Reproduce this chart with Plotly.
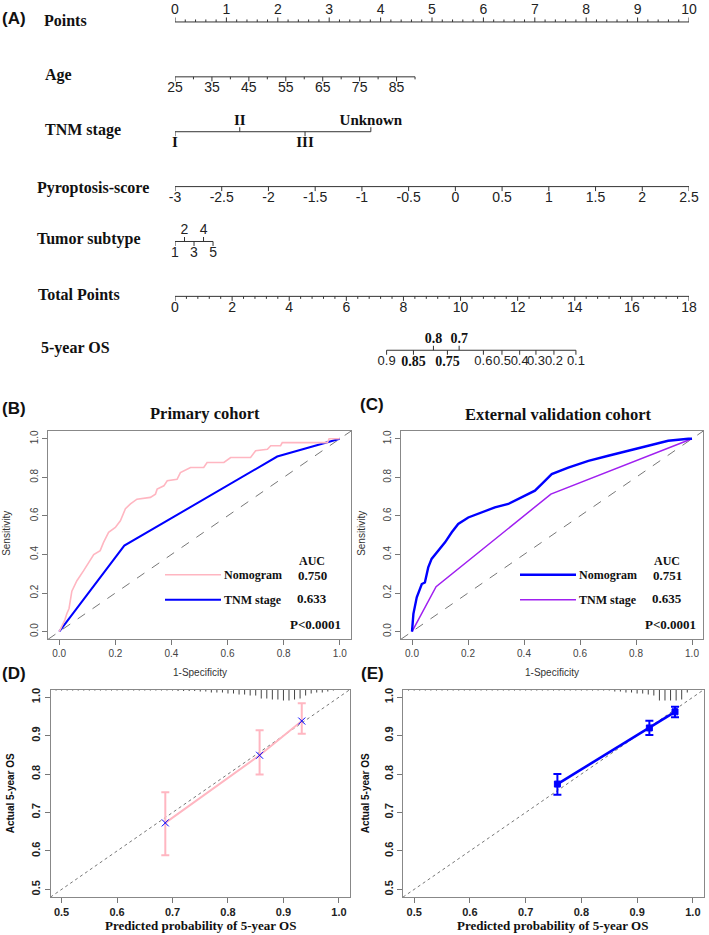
import plotly.graph_objects as go

W, H = 709, 935

# ================= DATA =================
# Panel A - nomogram
points_ticks = [0, 1, 2, 3, 4, 5, 6, 7, 8, 9, 10]
age_ticks = [25, 35, 45, 55, 65, 75, 85]
age_limits = [25, 90]
age_points_limits = [0.0, 4.67]
tnm_labels = ["I", "II", "III", "Unknown"]
tnm_points = [0.0, 1.26, 2.53, 3.81]
pyro_ticks = [-3, -2.5, -2, -1.5, -1, -0.5, 0, 0.5, 1, 1.5, 2, 2.5]
pyro_limits = [-3, 2.5]
pyro_points_limits = [0.0, 10.0]
subtype_labels = ["1", "2", "3", "4", "5"]
subtype_points = [0.0, 0.185, 0.37, 0.555, 0.74]
total_ticks = [0, 2, 4, 6, 8, 10, 12, 14, 16, 18]
total_points_max = 18
os_labels = ["0.9", "0.85", "0.8", "0.75", "0.7", "0.6", "0.5", "0.4", "0.3", "0.2", "0.1"]
os_total_points = [7.41, 8.35, 9.05, 9.54, 9.95, 10.80, 11.45, 12.07, 12.64, 13.27, 14.04]

# Panel B - primary cohort ROC
b_nomo_fpr = [0, 0.01, 0.02, 0.027, 0.035, 0.045, 0.063, 0.087, 0.105, 0.123, 0.146, 0.158,
              0.176, 0.2, 0.218, 0.236, 0.254, 0.277, 0.325, 0.343, 0.349, 0.373, 0.385,
              0.42, 0.432, 0.468, 0.515, 0.527, 0.587, 0.611, 0.682, 0.70, 0.742, 0.754,
              0.789, 0.795, 0.956, 0.962, 1.0]
b_nomo_tpr = [0, 0.03, 0.06, 0.093, 0.12, 0.21, 0.264, 0.316, 0.359, 0.40, 0.42, 0.463,
              0.515, 0.54, 0.575, 0.637, 0.662, 0.687, 0.696, 0.713, 0.739, 0.756, 0.782,
              0.79, 0.825, 0.851, 0.851, 0.877, 0.877, 0.903, 0.903, 0.938, 0.946, 0.964,
              0.964, 0.98, 0.98, 1.0, 1.0]
b_tnm_fpr = [0, 0.232, 0.777, 1.0]
b_tnm_tpr = [0, 0.446, 0.908, 1.0]

# Panel C - external validation ROC
c_nomo_fpr = [0, 0.003, 0.005, 0.017, 0.035, 0.046, 0.058, 0.07, 0.094, 0.118, 0.142, 0.165,
              0.201, 0.249, 0.296, 0.344, 0.392, 0.439, 0.463, 0.499, 0.558, 0.63, 0.701,
              0.773, 0.844, 0.915, 0.987, 1.0]
c_nomo_tpr = [0, 0.04, 0.092, 0.178, 0.247, 0.255, 0.333, 0.377, 0.42, 0.463, 0.515, 0.558,
              0.592, 0.618, 0.644, 0.662, 0.696, 0.731, 0.765, 0.817, 0.851, 0.886, 0.912,
              0.938, 0.964, 0.99, 1.0, 1.0]
c_tnm_fpr = [0, 0.086, 0.496, 1.0]
c_tnm_tpr = [0, 0.233, 0.713, 1.0]

auc_b = ["0.750", "0.633"]
auc_c = ["0.751", "0.635"]

# Panel D - calibration primary
d_pred = [0.687, 0.857, 0.933]
d_obs = [0.673, 0.849, 0.938]
d_upper = [0.753, 0.914, 0.984]
d_lower = [0.589, 0.799, 0.905]
# Panel E - calibration external
e_pred = [0.757, 0.922, 0.968]
e_obs = [0.774, 0.920, 0.962]
e_upper = [0.800, 0.939, 0.975]
e_lower = [0.746, 0.902, 0.948]

rug_x = [0.49, 0.50, 0.51, 0.52, 0.53, 0.54, 0.55, 0.56, 0.57, 0.58, 0.59, 0.60,
         0.61, 0.62, 0.63, 0.64, 0.65, 0.66, 0.67, 0.68, 0.69, 0.70, 0.71, 0.72,
         0.73, 0.74, 0.75, 0.76, 0.77, 0.78, 0.79, 0.80, 0.81, 0.82, 0.83, 0.84,
         0.85, 0.86, 0.87, 0.88, 0.89, 0.90, 0.91, 0.92, 0.93, 0.94, 0.95, 0.96,
         0.97, 0.98, 0.99]
rug_d = [1, 1, 1, 1, 1, 1, 1, 1, 1, 1, 1, 1,
         1, 1, 1, 1, 1, 1, 1, 1, 1, 1, 1.5, 1.5,
         1.5, 1.5, 2, 2, 3, 3, 3, 4, 4, 5, 5, 6,
         6, 9, 9, 10, 10, 11, 11, 10, 9, 6, 4, 3,
         3, 2, 1]
rug_e = [1, 1, 1, 1, 1, 1, 1, 1, 1, 1, 1, 1,
         1, 1, 1, 1, 1, 1, 1, 1, 1, 1, 1, 1,
         1, 1, 1, 1, 1, 1, 1, 1, 1, 1, 1, 1,
         1, 2, 2, 3, 3, 4, 4, 5, 6, 11, 11, 11,
         11, 10, 3]

# ================= HELPERS =================
SERIF = "Liberation Serif, Times New Roman, serif"
SANS = "Liberation Sans, Arial, sans-serif"


def px(x):
    return x / W


def py(y):
    return 1 - y / H


fig = go.Figure()
annotations = []
shapes = []


def ann(x, y, text, size=12, family=SERIF, weight="bold", color="#111",
        xanchor="center", angle=0):
    annotations.append(dict(x=px(x), y=py(y), xref="paper", yref="paper", text=text,
                            showarrow=False, xanchor=xanchor, yanchor="middle",
                            textangle=angle,
                            font=dict(family=family, size=size, color=color, weight=weight)))


def lin(v, lim, plim):
    return plim[0] + (v - lim[0]) / (lim[1] - lim[0]) * (plim[1] - plim[0])


TICK_FONT = dict(family=SANS, size=14, color="#222")


def nomo_row(ypix, pts, texts, sides, minor=(), fonts=None, span=None):
    lo, hi = (min(pts), max(pts)) if span is None else span
    fig.add_trace(go.Scatter(x=[lo, hi], y=[ypix, ypix], mode="lines",
                             line=dict(color="#333", width=1), hoverinfo="skip",
                             xaxis="x", yaxis="y", showlegend=False))
    tx, ty = [], []
    for p, s in zip(pts, sides):
        d = -4.5 if s == "above" else 4.5
        tx += [p, p, None]
        ty += [ypix, ypix + d, None]
    for p in minor:
        d = -2.5 if sides[0] == "above" else 2.5
        tx += [p, p, None]
        ty += [ypix, ypix + d, None]
    fig.add_trace(go.Scatter(x=tx, y=ty, mode="lines", line=dict(color="#333", width=1),
                             hoverinfo="skip", xaxis="x", yaxis="y", showlegend=False))
    if fonts is None:
        fonts = [TICK_FONT] * len(pts)
    for p, t, s, f in zip(pts, texts, sides, fonts):
        yy = ypix - 11 if s == "above" else ypix + 12
        fig.add_trace(go.Scatter(x=[p], y=[yy], mode="text", text=[t],
                                 textposition="middle center", textfont=f,
                                 hoverinfo="skip", xaxis="x", yaxis="y",
                                 showlegend=False, cliponaxis=False))


# ================= PANEL A =================
ann(14, 17, "(A)", size=17, family=SANS)
row_names = [("Points", 19), ("Age", 73), ("TNM stage", 128), ("Pyroptosis-score", 186),
             ("Tumor subtype", 238), ("Total Points", 293), ("5-year OS", 347)]
row_x = [42, 43, 43, 35, 35, 36, 39]
for (name, yy), xx in zip(row_names, row_x):
    ann(xx, yy, name, size=16, family=SERIF, xanchor="left")

# Points
nomo_row(20, points_ticks, [str(v) for v in points_ticks], ["above"] * len(points_ticks),
         minor=[i / 5 for i in range(51) if i % 5])
# Age
age_pts = [lin(v, age_limits, age_points_limits) for v in age_ticks]
age_minor = [lin(v, age_limits, age_points_limits) for v in range(30, 91, 10)]
nomo_row(75, age_pts, [str(v) for v in age_ticks], ["below"] * len(age_ticks),
         minor=age_minor, span=age_points_limits)
# TNM
tnm_font = dict(family=SERIF, size=15, color="#111", weight="bold")
nomo_row(130, tnm_points, tnm_labels, ["below", "above", "below", "above"],
         fonts=[tnm_font] * 4)
# Pyroptosis
pyro_pts = [lin(v, pyro_limits, pyro_points_limits) for v in pyro_ticks]
nomo_row(185, pyro_pts, [("%g" % v) for v in pyro_ticks], ["below"] * len(pyro_ticks))
# Tumor subtype
nomo_row(240, subtype_points, subtype_labels, ["below", "above", "below", "above", "below"])
# Total points
scale = 10 / total_points_max
tot_pts = [v * scale for v in total_ticks]
nomo_row(295, tot_pts, [str(v) for v in total_ticks], ["below"] * len(total_ticks),
         minor=[i * 0.4 * scale for i in range(46) if i % 5])
# 5-year OS
os_pts = [v * scale for v in os_total_points]
os_sides = ["above" if l in ("0.8", "0.7") else "below" for l in os_labels]
os_fonts = [dict(family=SERIF, size=14, color="#111", weight="bold")
            if l in ("0.85", "0.8", "0.75", "0.7") else dict(family=SANS, size=13, color="#222")
            for l in os_labels]
nomo_row(349, os_pts, os_labels, os_sides, fonts=os_fonts)

# ================= ROC PANELS =================
roc_ticks = [0, 0.2, 0.4, 0.6, 0.8, 1.0]
roc_text = ["0.0", "0.2", "0.4", "0.6", "0.8", "1.0"]


def roc_axis(domain, anchor, rng):
    return dict(domain=domain, anchor=anchor, range=rng, tickvals=roc_ticks, ticktext=roc_text,
                ticks="outside", ticklen=5, tickcolor="#777", showline=True, mirror=True,
                linecolor="#888", linewidth=1, showgrid=False, zeroline=False,
                tickfont=dict(family=SANS, size=10, color="#444"))


for (xa, ya, nomo_f, nomo_t, tnm_f, tnm_t, cn, ct, wn, wt) in [
        ("x2", "y2", b_nomo_fpr, b_nomo_tpr, b_tnm_fpr, b_tnm_tpr, "#FFB6C1", "#0000FF", 1.6, 2.0),
        ("x3", "y3", c_nomo_fpr, c_nomo_tpr, c_tnm_fpr, c_tnm_tpr, "#0000FF", "#A020F0", 2.4, 1.5)]:
    fig.add_trace(go.Scatter(x=[-0.04, 1.04], y=[-0.04, 1.04], mode="lines",
                             line=dict(color="#777", width=1, dash="dash"), xaxis=xa, yaxis=ya,
                             showlegend=False, hoverinfo="skip"))
    fig.add_trace(go.Scatter(x=tnm_f, y=tnm_t, mode="lines", line=dict(color=ct, width=wt),
                             xaxis=xa, yaxis=ya, showlegend=False))
    fig.add_trace(go.Scatter(x=nomo_f, y=nomo_t, mode="lines", line=dict(color=cn, width=wn),
                             xaxis=xa, yaxis=ya, showlegend=False))

ann(14, 407, "(B)", size=17, family=SANS)
ann(372, 403, "(C)", size=17, family=SANS)
ann(205, 412, "Primary cohort", size=16.5)
ann(558, 413, "External validation cohort", size=16.5)
for xo in (0, 355):
    ann(7 + xo, 533, "Sensitivity", size=10, family=SANS, weight="normal", color="#333", angle=-90)
for xc in (200, 552):
    ann(xc, 672, "1-Specificity", size=10, family=SANS, weight="normal", color="#333")

# ROC legends
for x0, cols, widths, aucs in [(165, ("#FFB6C1", "#0000FF"), (1.6, 2.0), auc_b),
                                (520, ("#0000FF", "#A020F0"), (2.4, 1.5), auc_c)]:
    vx = x0 + 147
    ann(vx, 560, "AUC", size=12)
    for (yy, lab, col, w, a) in [(574, "Nomogram", cols[0], widths[0], aucs[0]),
                                 (599, "TNM stage", cols[1], widths[1], aucs[1])]:
        shapes.append(dict(type="line", xref="paper", yref="paper", x0=px(x0), x1=px(x0 + 56),
                           y0=py(yy), y1=py(yy), line=dict(color=col, width=w)))
        ann(x0 + 57, yy, lab, size=12, xanchor="left")
        ann(vx, yy + (1 if lab == "Nomogram" else -1), a, size=13)
    ann(vx + 3, 624, "P<0.0001", size=13)

# ================= CALIBRATION PANELS =================
cal_ticks = [0.5, 0.6, 0.7, 0.8, 0.9, 1.0]
cal_text = ["0.5", "0.6", "0.7", "0.8", "0.9", "1.0"]


def cal_axis(domain, anchor, angle=0):
    return dict(domain=domain, anchor=anchor, range=[0.48, 1.02], tickvals=cal_ticks,
                ticktext=cal_text, ticks="outside", ticklen=5, tickcolor="#777", showline=True,
                mirror=True, linecolor="#888", linewidth=1, showgrid=False, zeroline=False,
                tickangle=angle,
                tickfont=dict(family=SANS, size=11, color="#222", weight="bold"))


rug_unit = 1 / 385.0
for (xa, ya, pr, ob, up, lo, col, lw, sym, rug) in [
        ("x4", "y4", d_pred, d_obs, d_upper, d_lower, "#FFB6C1", 2.0, "x-thin-open", rug_d),
        ("x5", "y5", e_pred, e_obs, e_upper, e_lower, "#0000FF", 2.6, "square", rug_e)]:
    fig.add_trace(go.Scatter(x=[0.48, 1.02], y=[0.48, 1.02], mode="lines",
                             line=dict(color="#777", width=1, dash="dot"), xaxis=xa, yaxis=ya,
                             showlegend=False, hoverinfo="skip"))
    rx, ry = [], []
    for xv, hv in zip(rug_x, rug):
        rx += [xv, xv, None]
        ry += [1.02, 1.02 - hv * rug_unit, None]
    fig.add_trace(go.Scatter(x=rx, y=ry, mode="lines", line=dict(color="#444", width=1),
                             xaxis=xa, yaxis=ya, showlegend=False, hoverinfo="skip"))
    fig.add_trace(go.Scatter(
        x=pr, y=ob, mode="lines+markers", line=dict(color=col, width=lw),
        marker=dict(symbol=sym, size=6 if sym == "square" else 7, color="#0000FF",
                    line=dict(color="#0000FF", width=1)),
        error_y=dict(type="data", symmetric=False,
                     array=[u - o for u, o in zip(up, ob)],
                     arrayminus=[o - l for o, l in zip(ob, lo)],
                     color=col, thickness=2, width=4),
        xaxis=xa, yaxis=ya, showlegend=False))

ann(14, 673, "(D)", size=17, family=SANS)
ann(372, 673, "(E)", size=17, family=SANS)
for xc in (200, 552):
    ann(xc, 925, "Predicted probability of 5-year OS", size=13)
for xo in (0, 355):
    ann(10 + xo, 793, "Actual 5-year OS", size=10, family=SANS, angle=-90)

# ================= LAYOUT =================
yB = [py(638.7), py(430)]
yD = [py(897), py(689)]
ya2 = roc_axis(yB, "x2", [-0.04, 1.04]); ya2["tickangle"] = -90
ya3 = roc_axis(yB, "x3", [-0.04, 1.04]); ya3["tickangle"] = -90

fig.update_layout(
    width=W, height=H, margin=dict(l=0, r=0, t=0, b=0),
    paper_bgcolor="white", plot_bgcolor="rgba(0,0,0,0)", showlegend=False,
    hovermode=False,
    xaxis=dict(domain=[px(175), px(689)], range=[0, 10], visible=False),
    yaxis=dict(domain=[0, 1], range=[H, 0], visible=False),
    xaxis2=roc_axis([px(48), px(351)], "y2", [-0.04, 1.04]),
    yaxis2=ya2,
    xaxis3=roc_axis([px(400.8), px(703.2)], "y3", [-0.04, 1.04]),
    yaxis3=ya3,
    xaxis4=cal_axis([px(50.5), px(350)], "y4"),
    yaxis4=cal_axis(yD, "x4", -90),
    xaxis5=cal_axis([px(403), px(704)], "y5"),
    yaxis5=cal_axis(yD, "x5", -90),
    annotations=annotations, shapes=shapes,
)

# remove the default 8px page margin so the figure fills the window exactly
fig.write_html("out.html", config={"displayModeBar": False},
               post_script="document.body.style.margin='0';document.body.style.overflow='hidden';")
